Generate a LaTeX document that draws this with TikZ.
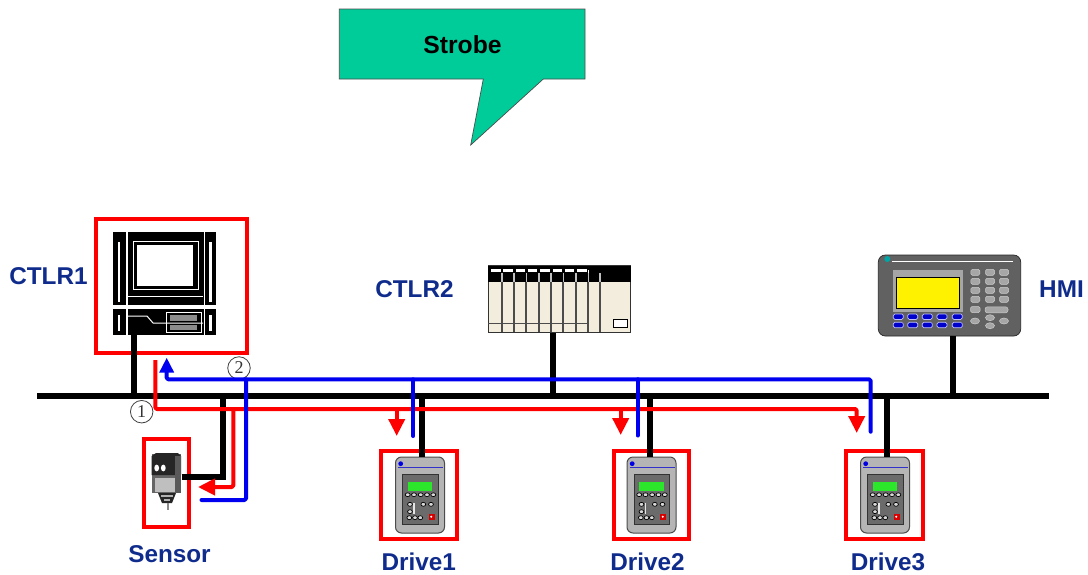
\documentclass[tikz,border=0pt]{standalone}
\usepackage{fontspec}
\setmainfont{Liberation Sans}
\newfontfamily\numfont{Liberation Serif}
\usetikzlibrary{arrows.meta}
\definecolor{labelblue}{HTML}{0F2C8C}
\definecolor{calloutgreen}{HTML}{00CC99}
\definecolor{plcbeige}{HTML}{F3EDDD}
\definecolor{flowblue}{HTML}{0000F0}
\definecolor{drvline}{HTML}{3232C8}
\definecolor{drvgreen}{HTML}{2CE62C}
\tikzset{
  framebox/.style={draw=red,line width=4pt,fill=none,inner sep=0pt},
  busline/.style={draw=black,line width=6pt},
  redflow/.style={draw=red,line width=4pt,line join=round,rounded corners=1.5pt},
  blueflow/.style={draw=flowblue,line width=4pt,line join=round,rounded corners=1.5pt,line cap=round},
  redhead/.style={-{Triangle[length=17pt,width=16pt]}},
  devlabel/.style={font=\fontsize{24.3}{25}\selectfont\bfseries,text=labelblue,anchor=base,inner sep=0pt},
  circlenum/.style={circle,draw=black!75,fill=white,line width=0.8pt,minimum size=22.5pt,inner sep=0pt,font=\numfont\fontsize{18}{18}\selectfont,text=black!80},
  drvkey/.style={fill=black!15,draw=black,line width=0.7pt},
  hmikey/.style={fill=black!35,draw=black!20,line width=0.5pt},
  softkey/.style={fill=blue!80!black,draw=blue!25,line width=0.7pt},
  drivepic/.pic={
    \draw[fill=black!29,draw=black!70,line width=1pt,rounded corners=6pt] (-24.5,0) rectangle (24.5,76);
    \draw[drvline,line width=1pt] (-22,10.7) -- (23,10.7);
    \fill[blue!90!black] (-19.3,6.7) circle (2.4pt);
    \draw[fill=black!58,draw=black!80,line width=0.8pt] (-17.3,17.3) rectangle (18,67);
    \fill[drvgreen] (-12.3,25) rectangle (12.3,33.7);
    \foreach \k in {-12.3,-6,0.7,7,13.3}{\draw[drvkey] (\k,37.7) ellipse (2.5pt and 1.9pt);}
    \foreach \a/\b in {-10/47.3,-10/54.7,3.3/47.3,11/47.3,-10.7/60.7,-5/60.7,0.3/60.7}{\draw[drvkey] (\a,\b) ellipse (2.4pt and 2pt);}
    \fill[black!10] (-7,45.7) rectangle (-5.5,57);
    \fill[red!85!black] (8.7,56.7) rectangle (14.7,62.7);
    \fill[white] (11.2,59.7) circle (1.1pt);
  }
}
\begin{document}
\begin{tikzpicture}[x=1pt,y=-1pt]
\useasboundingbox (0,0) rectangle (1088,574);
\fill[white] (0,0) rectangle (1088,574);

% callout
\draw[fill=calloutgreen,draw=black!70,line width=0.7pt] (339.3,9) -- (585,9) -- (585,79) -- (543.3,79) -- (470.7,145) -- (483.3,79) -- (339.3,79) -- cycle;
\node[font=\fontsize{24.7}{25}\selectfont\bfseries,text=black,anchor=base,inner sep=0pt] (strobe) at (462.5,53) {Strobe};

% frames
\node[framebox,minimum width=151.5pt,minimum height=134.5pt] (ctlr1box) at (171.25,285.75) {};
\node[framebox,minimum width=45pt,minimum height=88pt] (sensorbox) at (166,483) {};
\node[framebox,minimum width=75.4pt,minimum height=87.7pt] (drive1box) at (419,495.3) {};
\node[framebox,minimum width=75pt,minimum height=87.7pt] (drive2box) at (651.5,495.3) {};
\node[framebox,minimum width=76.4pt,minimum height=87.7pt] (drive3box) at (884.5,495.3) {};

% CTLR1 device
\node[fill=black,minimum width=103pt,minimum height=103pt,inner sep=0pt] (ctlr1dev) at (164.5,283.5) {};
\begin{scope}
  \draw[white,line width=1.6pt] (126.8,232) -- (126.8,335);
  \draw[white,line width=1.6pt] (204.5,232) -- (204.5,335);
  \fill[white] (113,305) rectangle (216,309);
  \draw[white,line width=1pt] (128,296) -- (203,296);
  \fill[white] (117.7,242) rectangle (120.3,302);
  \fill[white] (209,242) rectangle (212,302);
  \fill[white] (117.7,315) rectangle (120.3,331);
  \fill[white] (209,315) rectangle (212,331);
  \draw[white,line width=1pt] (133,241) rectangle (198,289);
  \fill[white] (137,245) rectangle (193,286);
  \draw[white,line width=1pt] (166.5,312) rectangle (201,332);
  \draw[white,line width=1pt] (128,316) -- (147,316) -- (153,323) -- (203,323);
  \fill[black!45] (170,315) rectangle (197,321);
  \fill[black!45] (170,325) rectangle (197,330);
\end{scope}

% CTLR2 device
\node[fill=plcbeige,draw=black!80,line width=0.8pt,minimum width=142.4pt,minimum height=66.6pt,inner sep=0pt] (ctlr2dev) at (559.5,299) {};
\fill[black] (488.3,265.7) rectangle (630.7,282.3);
\foreach \xa in {489.5,501.7,514,526.3,538.7,551,563.3,575.7}{
  \fill[white] (\xa+1.5,268.5) rectangle (\xa+11,271.7);
}
\draw[white,line width=1pt] (588.3,270) -- (588.3,282.3);
\foreach \xa in {501.7,514,526.3,538.7,551,563.3,575.7,588.3,600}{
  \draw[black!70,line width=2pt] (\xa,282.3) -- (\xa,332.3);
  \draw[black!25,line width=1.6pt] (\xa,273) -- (\xa,282.3);
}
\draw[black!70,line width=1.2pt] (488.3,323.3) -- (588.3,323.3);
\draw[fill=white,draw=black,line width=1.2pt] (613.3,319.3) rectangle (627.7,327.3);

% HMI device
\node[fill=black!62,draw=black!85,line width=0.7pt,rounded corners=7pt,minimum width=142.4pt,minimum height=81pt,inner sep=0pt] (hmidev) at (949.5,295.5) {};
\fill[teal!70!cyan] (887.3,259) circle (3pt);
\draw[white,line width=0.7pt] (891.7,261.7) -- (1013,261.7);
\fill[black!35] (893.3,270) rectangle (962.7,311.7);
\draw[fill=yellow,draw=black,line width=0.8pt] (896,277.3) rectangle (959.3,308.3);
\foreach \kx in {898.3,912.7,927.3,942,957.3}{
  \foreach \ky in {316.7,325}{
    \draw[softkey,rounded corners=1.5pt] (\kx-5,\ky-2.7) rectangle (\kx+5,\ky+2.7);
  }
}
\foreach \kx in {975.3,990,1004}{
  \foreach \ky in {272.3,281.3,290.3,299.3}{
    \draw[hmikey,rounded corners=1.5pt] (\kx-4.5,\ky-3) rectangle (\kx+4.5,\ky+3);
  }
}
\draw[hmikey,rounded corners=1.5pt] (970.5,306.5) rectangle (980,312.5);
\draw[hmikey,rounded corners=2.5pt] (985,306.8) rectangle (1008,312.8);
\draw[hmikey] (975,321) ellipse (4.5pt and 3pt);
\draw[hmikey] (990,317.7) ellipse (4.5pt and 3pt);
\draw[hmikey] (990,325.7) ellipse (4.5pt and 3pt);
\draw[hmikey] (1004,321) ellipse (4.5pt and 3pt);

% Sensor device
\node[fill=black!60,minimum width=29pt,minimum height=39pt,inner sep=0pt] (sensordev) at (166.2,473.5) {};
\fill[black!85] (151.7,456) -- (156,453) -- (178,453) -- (181,456) -- (181,475) -- (151.7,475) -- cycle;
\fill[black!65] (175,456) rectangle (181,493);
\fill[white] (156.7,468) ellipse (2.4pt and 3.4pt);
\fill[white] (163.3,468) ellipse (2.4pt and 3.4pt);
\fill[black!25] (155,478) rectangle (175,492);
\fill[black!85] (158,493) -- (176,493) -- (172,503) -- (162,503) -- cycle;
\fill[black!30] (161,495) rectangle (173,497);
\fill[black!30] (164,499) rectangle (170,500.5);
\draw[black!45,line width=2pt] (167.5,503) -- (167.5,510);

% Drive devices
\coordinate (d1top) at (420,457);
\coordinate (d2top) at (651.5,457);
\coordinate (d3top) at (885,457);
\pic at (d1top) {drivepic};
\pic at (d2top) {drivepic};
\pic at (d3top) {drivepic};

% bus
\coordinate (busL) at (37,395.5);
\coordinate (busR) at (1049,395.5);
\draw[busline] (busL) -- (busR);
\coordinate (s1) at (134,395.5);
\coordinate (s2) at (222.7,395.5);
\coordinate (s3) at (422,395.5);
\coordinate (s4) at (553,395.5);
\coordinate (s5) at (650,395.5);
\coordinate (s6) at (887,395.5);
\coordinate (s7) at (952.7,395.5);
\draw[busline] (s1) -- (s1 |- ctlr1dev.south);
\draw[busline] (s2) -- (222.7,476.7) -- (181.7,476.7);
\draw[busline] (s3) -- (s3 |- d1top);
\draw[busline] (s4) -- (s4 |- ctlr2dev.south);
\draw[busline] (s5) -- (s5 |- d2top);
\draw[busline] (s6) -- (s6 |- d3top);
\draw[busline] (s7) -- (s7 |- hmidev.south);

% red flow
\coordinate (rstart) at (155.3,360);
\coordinate (rcorner) at (155.3,409);
\coordinate (rend) at (856.7,433);
\draw[redflow,redhead] (rstart) -- (rcorner) -- (856.7,409) -- (rend);
\coordinate (rsens) at (198,487);
\draw[redflow,redhead] (233.3,409) -- (233.3,487) -- (rsens);
\coordinate (rd1) at (396.7,436);
\coordinate (rd2) at (620.7,435);
\draw[redflow,redhead] (rd1 |- rcorner) -- (rd1);
\draw[redflow,redhead] (rd2 |- rcorner) -- (rd2);

% circled numbers
\node[circlenum] (num1) at (141.7,411.7) {1};
\node[circlenum] (num2) at (239,368) {2};

% blue flow
\coordinate (bstart) at (870.7,431.7);
\coordinate (btip) at (166.7,358);
\draw[blueflow] (bstart) -- (870.7,379.3) -- (166.7,379.3) -- (166.7,372);
\fill[flowblue] (btip) -- (174.2,372.5) -- (159.2,372.5) -- cycle;
\draw[blueflow] (246,379.3) -- (246,500) -- (201.5,500);
\draw[blueflow] (413.3,379.3) -- (413.3,436);
\draw[blueflow] (637.7,379.3) -- (637.7,435.5);

% labels
\node[devlabel] (lctlr1) at (48.5,284) {CTLR1};
\node[devlabel] (lctlr2) at (414.5,297) {CTLR2};
\node[devlabel] (lhmi) at (1061.5,297) {HMI};
\node[devlabel] (lsensor) at (169.5,562) {Sensor};
\node[devlabel] (ldrive1) at (418.8,570) {Drive1};
\node[devlabel] (ldrive2) at (647.5,570) {Drive2};
\node[devlabel] (ldrive3) at (888,570) {Drive3};
\end{tikzpicture}
\end{document}
